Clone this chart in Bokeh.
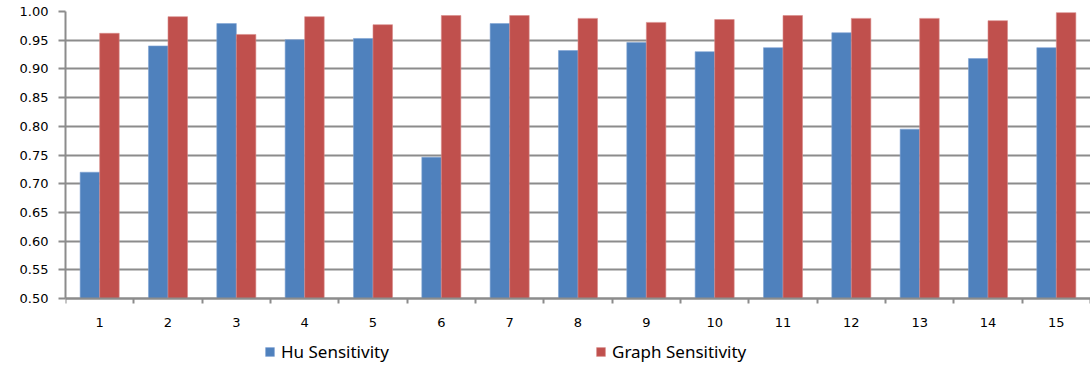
from bokeh.plotting import figure
from bokeh.models import ColumnDataSource, FixedTicker, Legend, LegendItem, Range1d, CustomJSTickFormatter
from bokeh.transform import dodge
from bokeh.embed import file_html
from bokeh.resources import INLINE

categories = list(range(1, 16))
hu_sensitivity = [0.720, 0.940, 0.979, 0.951, 0.953, 0.746, 0.979, 0.932, 0.946, 0.930, 0.937, 0.963, 0.795, 0.918, 0.937]
graph_sensitivity = [0.962, 0.991, 0.960, 0.991, 0.977, 0.993, 0.993, 0.988, 0.981, 0.986, 0.993, 0.988, 0.988, 0.984, 0.998]
y_ticks = [0.50, 0.55, 0.60, 0.65, 0.70, 0.75, 0.80, 0.85, 0.90, 0.95, 1.00]

BLUE = "#4F81BD"
RED = "#C0504D"
GRID = "#8c8c8c"
TICK_FONT = "DejaVu Sans"

src = ColumnDataSource(dict(x=categories, hu=hu_sensitivity, graph=graph_sensitivity))

# frame spans below the 0.50 baseline so the x labels and legend live inside it
y_bottom = 0.5 - 66 * 0.5 / 287
p = figure(frame_width=1025, frame_height=353, output_backend="svg", toolbar_location=None,
           x_range=Range1d(0.5, 15.5), y_range=Range1d(y_bottom, 1.0),
           min_border_left=65, min_border_right=0, min_border_top=11, min_border_bottom=0)
p.outline_line_color = None

bw = 0.2857
r1 = p.vbar(x=dodge("x", -bw / 2), top="hu", bottom=0.5, width=bw, source=src,
            fill_color=BLUE, line_color="#7fa3d4", line_width=0.6)
r2 = p.vbar(x=dodge("x", bw / 2), top="graph", bottom=0.5, width=bw, source=src,
            fill_color=RED, line_color="#d98c8a", line_width=0.6)

# x axis, pinned at the 0.50 baseline
p.xaxis.fixed_location = 0.5
p.xaxis.ticker = FixedTicker(ticks=categories, minor_ticks=[c - 0.5 for c in categories] + [15.5])
p.xaxis.major_tick_out = 0
p.xaxis.major_tick_in = 0
p.xaxis.minor_tick_out = 5
p.xaxis.minor_tick_in = 0
p.xaxis.minor_tick_line_color = GRID
p.xaxis.minor_tick_line_width = 2
p.xaxis.axis_line_color = GRID
p.xaxis.axis_line_width = 2
p.xaxis.major_label_standoff = 14
p.xaxis.major_label_text_font = TICK_FONT
p.xaxis.major_label_text_font_size = "13px"
p.xaxis.major_label_text_color = "#000000"
p.xgrid.grid_line_color = None

# y axis
p.yaxis.bounds = (0.5, 1.0)
p.yaxis.ticker = FixedTicker(ticks=y_ticks)
p.yaxis.formatter = CustomJSTickFormatter(code="return tick.toFixed(2);")
p.yaxis.major_tick_out = 7
p.yaxis.major_tick_in = 0
p.yaxis.minor_tick_line_color = None
p.yaxis.major_tick_line_color = GRID
p.yaxis.major_tick_line_width = 2
p.yaxis.axis_line_color = GRID
p.yaxis.axis_line_width = 2
p.yaxis.major_label_standoff = 10
p.yaxis.major_label_text_font = TICK_FONT
p.yaxis.major_label_text_font_size = "13px"
p.yaxis.major_label_text_color = "#000000"
p.ygrid.grid_line_color = GRID
p.ygrid.grid_line_width = 2

legend = Legend(items=[LegendItem(label="Hu Sensitivity", renderers=[r1]),
                       LegendItem(label="Graph Sensitivity", renderers=[r2])],
                orientation="horizontal", location=(199, 1),
                padding=0, margin=0, spacing=98, label_width=216, label_height=14,
                glyph_width=11, glyph_height=11, label_standoff=6,
                label_text_font="Noto Sans", label_text_font_size="17px",
                label_text_color="#000000",
                border_line_color=None, background_fill_alpha=0)
p.add_layout(legend, "center")

open("out.html", "w").write(file_html(p, INLINE))
